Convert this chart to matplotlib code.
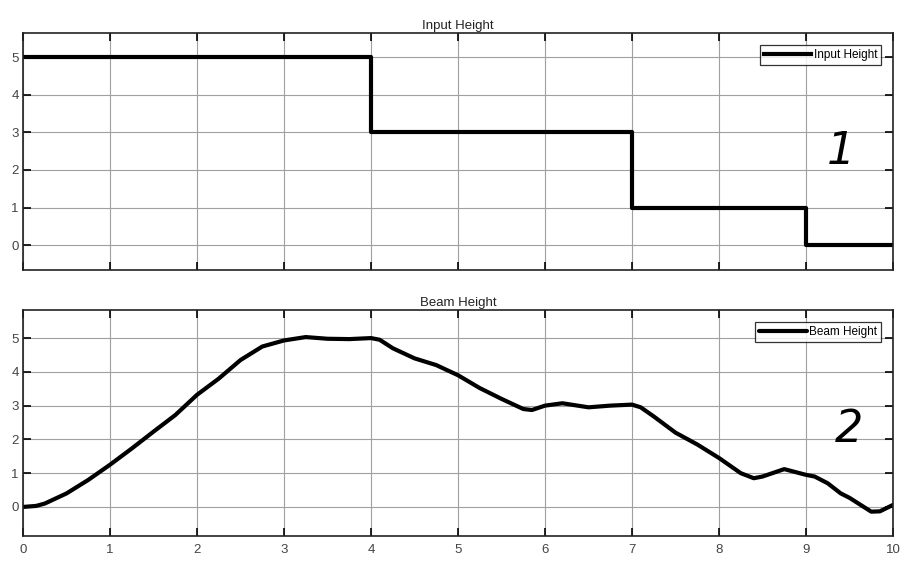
import matplotlib.pyplot as plt

# step input (post-step values)
input_t = [0, 4, 7, 9, 10]
input_h = [5, 3, 1, 0, 0]

# beam response
beam_t = [0, 0.15, 0.25, 0.5, 0.75, 1.0, 1.25, 1.5, 1.75, 2.0, 2.25, 2.5, 2.75, 3.0,
          3.25, 3.5, 3.75, 4.0, 4.1, 4.25, 4.5, 4.75, 5.0, 5.25, 5.5, 5.75, 5.85,
          6.0, 6.2, 6.5, 6.75, 7.0, 7.1, 7.25, 7.5, 7.75, 8.0, 8.25, 8.4, 8.5,
          8.75, 9.0, 9.1, 9.25, 9.4, 9.5, 9.75, 9.85, 10.0]
beam_h = [0, 0.03, 0.1, 0.4, 0.8, 1.25, 1.73, 2.23, 2.72, 3.32, 3.8, 4.35, 4.75, 4.93,
          5.03, 4.98, 4.97, 5.0, 4.95, 4.7, 4.4, 4.2, 3.9, 3.52, 3.2, 2.9, 2.87,
          3.0, 3.07, 2.95, 3.0, 3.03, 2.95, 2.68, 2.2, 1.85, 1.45, 1.0, 0.85, 0.9,
          1.12, 0.95, 0.9, 0.7, 0.4, 0.27, -0.14, -0.13, 0.06]

x_ticks = list(range(0, 11))
y_ticks = [0, 1, 2, 3, 4, 5]

plt.rcParams["font.family"] = ["Liberation Sans", "DejaVu Sans"]

fig = plt.figure(figsize=(9.1, 5.62), dpi=100)
ax1 = fig.add_axes([0.0253, 0.5196, 0.956, 0.4217])
ax2 = fig.add_axes([0.0253, 0.0463, 0.956, 0.402])


def style_axes(ax, ylim):
    ax.set_xlim(0, 10)
    ax.set_ylim(*ylim)
    ax.set_xticks(x_ticks)
    ax.set_yticks(y_ticks)
    ax.grid(True, color="#a0a0a0", linewidth=0.8)
    ax.tick_params(direction="in", length=6, width=1.2, top=True, right=True,
                   labelsize=9.5, labelcolor="#444444", pad=3)
    ax.tick_params(axis="x", pad=6)
    for s in ax.spines.values():
        s.set_linewidth(1.2)
        s.set_color("#222222")


def add_legend(ax):
    leg = ax.legend(loc="upper right", fontsize=8.5, frameon=True, fancybox=False,
                    handlelength=4.0, borderpad=0.35, handletextpad=0.2,
                    borderaxespad=1.0)
    leg.get_frame().set_edgecolor("black")
    leg.get_frame().set_linewidth(0.9)


ax1.step(input_t, input_h, where="post", color="black", linewidth=3, label="Input Height")
style_axes(ax1, (-0.66, 5.64))
ax1.tick_params(labelbottom=False)
ax1.set_title("Input Height", fontsize=9.5, color="#222222", pad=3)
add_legend(ax1)
ax1.text(9.4, 2.5, "1", fontsize=32, style="italic", ha="center", va="center",
         family="DejaVu Sans", fontweight="light")

ax2.plot(beam_t, beam_h, color="black", linewidth=3, label="Beam Height",
         solid_joinstyle="round", solid_capstyle="round")
style_axes(ax2, (-0.86, 5.83))
ax2.set_title("Beam Height", fontsize=9.5, color="#222222", pad=3)
add_legend(ax2)
ax2.text(9.5, 2.3, "2", fontsize=32, style="italic", ha="center", va="center",
         family="DejaVu Sans", fontweight="light")

fig.savefig("out.png", dpi=100)
